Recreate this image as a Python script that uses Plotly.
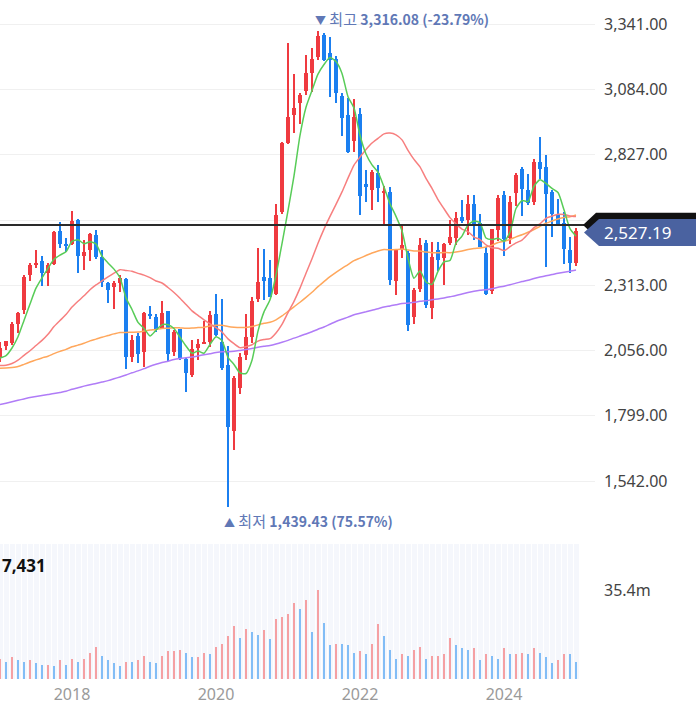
import numpy as np
import pandas as pd
import plotly.graph_objects as go

# ---------------- data (monthly, Jan 2017 - Jan 2025) ----------------
months = pd.date_range("2017-01-01", "2025-01-01", freq="MS")

opens = [
    2026, 2073, 2086, 2162, 2214, 2353, 2394, 2408, 2360, 2398, 2527, 2477,
    2474, 2569, 2429, 2453, 2512, 2424, 2320, 2305, 2323, 2338, 2030, 2115,
    2050, 2200, 2190, 2145, 2210, 2050, 2140, 2024, 1960, 2065, 2085, 2090,
    2201, 2090, 2000, 1740, 1910, 2040, 2110, 2260, 2345, 2340, 2280, 2600,
    2874, 2985, 3030, 3080, 3150, 3211, 3300, 3226, 3204, 3060, 2985, 2880,
    2988, 2710, 2690, 2757, 2676, 2680, 2330, 2455, 2441, 2190, 2300, 2480,
    2225, 2450, 2420, 2480, 2500, 2580, 2570, 2635, 2560, 2440, 2290, 2530,
    2670, 2500, 2675, 2770, 2690, 2640, 2800, 2777, 2680, 2590, 2560, 2450,
    2400,
]
highs = [
    2088, 2095, 2168, 2209, 2355, 2402, 2453, 2429, 2400, 2528, 2561, 2500,
    2607, 2575, 2490, 2520, 2530, 2452, 2325, 2330, 2355, 2340, 2117, 2126,
    2206, 2231, 2199, 2252, 2212, 2138, 2141, 2025, 2097, 2100, 2172, 2211,
    2277, 2259, 2074, 1955, 2048, 2201, 2266, 2458, 2454, 2414, 2634, 2878,
    3266, 3146, 3071, 3221, 3249, 3316.08, 3305, 3290, 3215, 3072, 3051, 3045,
    3010, 2768, 2767, 2787, 2704, 2701, 2454, 2549, 2449, 2301, 2501, 2490,
    2484, 2485, 2480, 2571, 2602, 2650, 2668, 2668, 2592, 2465, 2535, 2669,
    2685, 2665, 2757, 2779, 2752, 2811, 2896, 2828, 2690, 2651, 2600, 2503,
    2540,
]
lows = [
    2009, 2060, 2078, 2124, 2200, 2330, 2380, 2310, 2311, 2394, 2460, 2445,
    2470, 2363, 2375, 2410, 2416, 2308, 2243, 2218, 2286, 1985, 2010, 2005,
    1993, 2180, 2130, 2143, 2016, 2036, 2018, 1891, 1950, 2020, 2080, 2070,
    2113, 1980, 1439.43, 1663, 1884, 2020, 2087, 2249, 2255, 2265, 2275, 2593,
    2869, 2914, 2947, 3062, 3076, 3200, 3196, 3053, 3030, 2901, 2833, 2837,
    2591, 2643, 2608, 2640, 2546, 2314, 2276, 2422, 2134, 2160, 2286, 2223,
    2180, 2371, 2314, 2470, 2473, 2560, 2513, 2491, 2462, 2273, 2279, 2488,
    2429, 2474, 2627, 2584, 2629, 2631, 2731, 2386, 2505, 2545, 2397, 2360,
    2390,
]
closes = [
    2067.57, 2091.64, 2160.23, 2205.44, 2347.38, 2391.79, 2402.71, 2363.19, 2394.47, 2523.43, 2476.37, 2467.49,
    2566.46, 2427.36, 2445.85, 2515.38, 2423.01, 2326.13, 2295.26, 2322.88, 2343.07, 2029.69, 2096.86, 2041.04,
    2204.85, 2195.44, 2140.67, 2203.59, 2041.74, 2130.62, 2024.55, 1967.79, 2063.05, 2083.48, 2087.96, 2197.67,
    2119.01, 1987.01, 1754.64, 1947.56, 2029.60, 2108.33, 2249.37, 2326.17, 2327.89, 2267.15, 2591.34, 2873.47,
    2976.21, 3012.95, 3061.42, 3147.86, 3203.92, 3296.68, 3202.32, 3199.27, 3068.82, 2970.68, 2839.01, 2977.65,
    2663.34, 2699.18, 2757.65, 2695.05, 2685.90, 2332.64, 2451.50, 2472.05, 2155.49, 2293.61, 2472.53, 2236.40,
    2425.08, 2412.85, 2476.86, 2501.53, 2577.12, 2564.28, 2632.58, 2556.27, 2465.07, 2277.99, 2535.29, 2655.28,
    2497.09, 2642.36, 2746.63, 2692.06, 2636.52, 2797.82, 2770.69, 2674.31, 2593.27, 2556.15, 2455.91, 2399.49,
    2527.19,
]
volume_m = [
    8.09, 6.76, 8.62, 7.43, 6.76, 7.43, 6.23, 5.57, 5.62, 5.04, 7.43, 5.57,
    7.96, 6.76, 7.96, 10.34, 12.73, 9.15, 7.43, 6.23, 5.04, 6.76, 6.70, 7.43,
    9.15, 6.76, 6.23, 9.15, 11.00, 11.10, 11.54, 10.34, 8.62, 8.70, 10.34, 9.81,
    12.73, 13.92, 16.97, 21.08, 16.31, 19.89, 18.70, 17.50, 19.36, 15.78, 24.00, 24.66,
    25.86, 30.10, 27.71, 31.29, 18.70, 35.40, 22.28, 13.39, 13.92, 13.85, 13.39, 10.34,
    11.00, 9.81, 13.92, 21.75, 16.97, 11.54, 7.96, 9.81, 9.15, 11.54, 12.73, 7.96,
    9.15, 9.20, 9.81, 16.31, 13.39, 12.20, 11.54, 12.25, 7.43, 9.81, 9.15, 7.96,
    12.20, 9.81, 9.85, 10.34, 9.81, 12.20, 10.34, 8.62, 6.23, 7.43, 9.81, 9.75,
    6.76,
]
prev_volume_m = 7.5  # Dec 2016

# monthly closes Feb 2007 - Dec 2016 (history used only for the moving averages)
history_close = [
    1417.3, 1452.6, 1542.2, 1700.9, 1743.6, 1933.3, 1873.2, 1946.5, 2064.9, 1906.0, 1897.1,
    1624.7, 1711.6, 1703.9, 1825.5, 1852.0, 1674.9, 1594.7, 1474.2, 1448.1, 1113.1, 1076.1, 1124.5,
    1162.1, 1063.0, 1206.3, 1369.4, 1395.9, 1390.1, 1557.3, 1591.9, 1673.1, 1580.7, 1555.6, 1682.8,
    1602.4, 1594.6, 1692.9, 1741.6, 1641.3, 1698.3, 1759.3, 1742.8, 1872.8, 1882.9, 1904.6, 2051.0,
    2069.7, 1939.3, 2106.7, 2192.4, 2142.5, 2100.7, 2133.2, 1880.1, 1769.7, 1909.0, 1847.5, 1825.7,
    1955.8, 2030.3, 2014.0, 1981.9, 1843.5, 1854.0, 1881.9, 1905.1, 1996.2, 1912.1, 1932.9, 1997.1,
    1961.9, 2026.5, 2004.9, 1963.9, 2001.1, 1863.3, 1914.0, 1926.4, 2005.2, 2030.1, 2044.9, 2011.3,
    1941.2, 1980.0, 1985.6, 1961.8, 1994.9, 2002.2, 2076.1, 2068.5, 2020.1, 1964.4, 1980.8, 1915.6,
    1949.3, 1985.8, 2041.0, 2127.2, 2114.8, 2074.2, 2030.2, 1941.5, 1962.8, 2029.5, 1991.9, 1961.3,
    1912.1, 1916.7, 1995.9, 1994.2, 1983.4, 1970.4, 2016.2, 2034.7, 2043.6, 2008.2, 1983.5, 2026.5,
]
ma_periods = [120, 60, 20, 5]
year_labels = ["2018", "2020", "2022", "2024"]
price_ticks = [1542, 1799, 2056, 2313, 2570, 2827, 3084, 3341]
crosshair_price = 2550.4

# ---------------- styling / geometry ----------------
W, H = 696, 704
RED, BLUE = "#ef3a40", "#1b7ff0"
VRED, VBLUE = "#f5a0a3", "#82bdf6"
MA_COLORS = {120: "#b07cf7", 60: "#ffa75c", 20: "#f77f7f", 5: "#58cc58"}
TAG = "#4a62a0"
ANN = "#6078b6"
FONT = "Noto Sans, Noto Sans CJK KR, sans-serif"
KFONT = "Noto Sans CJK KR, Noto Sans, sans-serif"

def py(p):  # pixel row -> paper y
    return 1 - p / H

n = len(months)
idx = np.arange(n)
O, Hh, L, C = map(np.array, (opens, highs, lows, closes))
up = C >= O
ccol = [RED if u else BLUE for u in up]

# price-axis pixel mapping (gridline 3341 at y=24.3, 1542 at y=481.0)
k = (3341 - 1542) / (481.0 - 24.3)
price_top = 3341 + 24.3 * k
price_bot = 3341 - (530 - 24.3) * k
x_right = 595 / 6.0  # months visible, 6 px per month

fig = go.Figure()

# candles: wicks then bodies
fig.add_trace(go.Bar(x=idx, y=Hh - L, base=L, width=0.2, marker=dict(color=ccol, line_width=0),
                     xaxis="x", yaxis="y", hoverinfo="skip"))
body_lo = np.minimum(O, C)
body_h = np.maximum(np.abs(C - O), 4.0)
fig.add_trace(go.Bar(x=idx, y=body_h, base=body_lo, width=0.66, marker=dict(color=ccol, line_width=0),
                     xaxis="x", yaxis="y"))

# moving averages
full_close = pd.Series(history_close + closes)
for p in ma_periods:
    ma = full_close.rolling(p).mean().to_numpy()[-n:]
    fig.add_trace(go.Scatter(x=idx, y=ma, mode="lines", line=dict(color=MA_COLORS[p], width=1.5, shape="spline", smoothing=0.6),
                             xaxis="x", yaxis="y", hoverinfo="skip"))

# volume
V = np.array(volume_m)
prevV = np.concatenate([[prev_volume_m], V[:-1]])
vcol = [VRED if v >= pv else VBLUE for v, pv in zip(V, prevV)]
fig.add_trace(go.Bar(x=idx, y=V, width=0.45, marker=dict(color=vcol, line_width=0), xaxis="x2", yaxis="y2"))

vmax = V.max()
vol_top = vmax * (679 - 544) / (679 - 590)

year_pos = [int(np.where((months.year == int(y)) & (months.month == 1))[0][0]) for y in year_labels]

last_close = closes[-1]
hi_i = int(np.argmax(Hh)); lo_i = int(np.argmin(L))
hi_v = Hh[hi_i]; lo_v = L[lo_i]

fig.update_layout(
    width=W, height=H, margin=dict(l=0, r=0, t=0, b=0),
    paper_bgcolor="white", plot_bgcolor="white", showlegend=False,
    barmode="overlay", bargap=0,
    font=dict(family=FONT),
    xaxis=dict(domain=[0, 595 / W], range=[0, x_right], showticklabels=False, showgrid=False,
               zeroline=False, showline=False, anchor="y", fixedrange=True),
    yaxis=dict(domain=[py(530), 1], range=[price_bot, price_top], side="right",
               tickvals=price_ticks,
               ticktext=["" if t == 2570 else f"{t:,.2f}" for t in price_ticks],
               showgrid=True, gridcolor="#f0f0f0", gridwidth=1, zeroline=False, ticks="",
               tickfont=dict(size=16, color="#444444"), ticklabelstandoff=8, anchor="x"),
    xaxis2=dict(domain=[0, 595 / W], range=[0, x_right], matches="x", anchor="y2",
                tickvals=year_pos, ticktext=year_labels, ticks="", showgrid=False, zeroline=False,
                tickfont=dict(size=16, color="#9a9a9a"), ticklabelstandoff=4,
                minor=dict(tick0=-0.5, dtick=1, showgrid=True, gridcolor="white", gridwidth=1)),
    yaxis2=dict(domain=[py(679), py(544)], range=[0, vol_top], side="right",
                tickvals=[vmax], ticktext=[f"{vmax:.1f}m"], showgrid=False, zeroline=False, ticks="",
                tickfont=dict(size=16, color="#444444"), ticklabelstandoff=8, anchor="x2"),
)

shapes = [
    dict(type="rect", xref="x2", yref="y2 domain", x0=-0.5, x1=n - 0.5, y0=0, y1=1,
         fillcolor="#f5f7fc", line_width=0, layer="below"),
    dict(type="line", xref="paper", yref="y", x0=0, x1=590 / W, y0=crosshair_price, y1=crosshair_price,
         line=dict(color="#2b2b2b", width=2)),
]
# black (crosshair) tag behind, blue (last price) tag in front
def tag_path(center, half_px, x_tip, x_shoulder):
    t = center + half_px * k; b = center - half_px * k
    return (f"M {x_tip / W},{center} L {x_shoulder / W},{t} L 1,{t} L 1,{b} L {x_shoulder / W},{b} Z")

shapes.append(dict(type="path", xref="paper", yref="y", path=tag_path(crosshair_price, 12.3, 583, 596),
                   fillcolor="#111111", line_width=0, layer="above"))
shapes.append(dict(type="path", xref="paper", yref="y", path=tag_path(last_close - 1.5 * k, 13.5, 584, 599),
                   fillcolor=TAG, line_width=0, layer="above"))
fig.update_layout(shapes=shapes)

ann = [
    dict(xref="paper", yref="y", x=602 / W, y=last_close - 1.5 * k, xanchor="left", yanchor="middle",
         text=f"{last_close:,.2f}", showarrow=False, font=dict(size=17, color="white", family=FONT)),
    dict(xref="x", yref="y", x=hi_i, y=hi_v, xanchor="left", yanchor="middle", xshift=-5, yshift=12,
         text=f"<span style='font-size:11px'>▼</span> 최고 <b><span style='font-size:14px'>{hi_v:,.2f} ({(last_close / hi_v - 1) * 100:.2f}%)</span></b>",
         showarrow=False, font=dict(size=15, color=ANN, family=KFONT)),
    dict(xref="x", yref="y", x=lo_i, y=lo_v, xanchor="left", yanchor="middle", xshift=-6, yshift=-13,
         text=f"<span style='font-size:11px'>▲</span> 최저 <b><span style='font-size:14px'>{lo_v:,.2f} ({(last_close / lo_v - 1) * 100:.2f}%)</span></b>",
         showarrow=False, font=dict(size=15, color=ANN, family=KFONT)),
    dict(xref="paper", yref="paper", x=0, y=py(565), xanchor="left", yanchor="middle",
         text="<b>7,431</b>", showarrow=False, font=dict(size=17, color="#111111", family=FONT)),
]
fig.update_layout(annotations=ann)

fig.write_html("out.html", config={"displayModeBar": False},
               post_script="document.body.style.margin='0';document.body.style.overflow='hidden';")
